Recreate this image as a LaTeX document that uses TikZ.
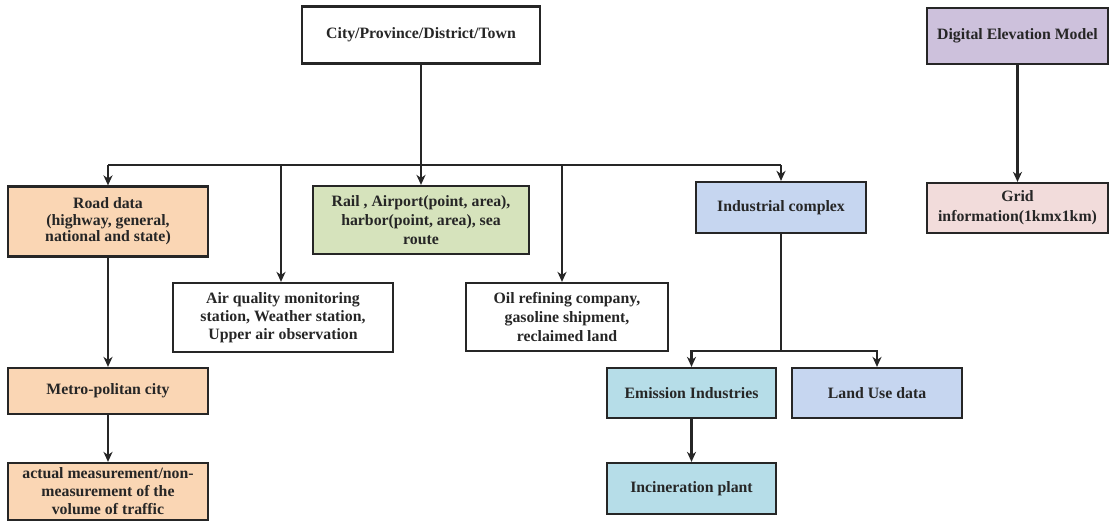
\documentclass[tikz,border=0pt]{standalone}
\usepackage{fontspec}
\setmainfont{Liberation Serif}
\usetikzlibrary{arrows.meta}
\definecolor{peach}{RGB}{250,214,180}
\definecolor{sage}{RGB}{214,227,188}
\definecolor{lblue}{RGB}{198,214,240}
\definecolor{teal}{RGB}{182,221,232}
\definecolor{lilac}{RGB}{205,193,220}
\definecolor{pinkish}{RGB}{242,220,219}
\begin{document}
\begin{tikzpicture}[x=1pt,y=-1pt,
  box/.style={draw=black!85,line width=2.2pt,rectangle,align=center,inner sep=1pt,
    font=\bfseries\fontsize{15.8}{18}\selectfont,text=black!85},
  arr/.style={line width=2.2pt,draw=black!85,-{Stealth[length=10pt,width=9pt,inset=3pt]}},
  ln/.style={line width=2.2pt,draw=black!85}]
\useasboundingbox (0,0) rectangle (1109,522);
\node[box,minimum width=238pt,minimum height=57pt] (city) at (421,35) {City/Province/District/Town};
\node[box,fill=peach,minimum width=200pt,minimum height=70pt,font=\bfseries\fontsize{15.8}{16.5}\selectfont] (road) at (108,221.5) {Road data\\(highway, general,\\national and state)};
\node[box,fill=sage,minimum width=216pt,minimum height=68pt,font=\bfseries\fontsize{15.8}{19}\selectfont] (rail) at (421,220) {Rail , Airport(point, area),\\harbor(point, area), sea\\route};
\node[box,minimum width=220pt,minimum height=69pt,font=\bfseries\fontsize{15.8}{18}\selectfont] (air) at (283,317.5) {Air quality monitoring\\station, Weather station,\\Upper air observation};
\node[box,minimum width=202pt,minimum height=68pt,font=\bfseries\fontsize{15.8}{19}\selectfont] (oil) at (567,317) {Oil refining company,\\gasoline shipment,\\reclaimed land};
\node[box,fill=lblue,minimum width=170pt,minimum height=51pt] (ind) at (781,207.5) {Industrial complex};
\node[box,fill=teal,minimum width=169pt,minimum height=50pt] (emis) at (691.5,393) {Emission Industries};
\node[box,fill=lblue,minimum width=170pt,minimum height=50pt] (land) at (877,393) {Land Use data};
\node[box,fill=teal,minimum width=169pt,minimum height=51pt] (inc) at (691.5,488.5) {Incineration plant};
\node[box,fill=peach,minimum width=200pt,minimum height=46pt] (metro) at (108,391) {Metro-politan city};
\node[box,fill=peach,minimum width=200pt,minimum height=57pt,font=\bfseries\fontsize{15.8}{18}\selectfont] (act) at (108,491.5) {actual measurement/non-\\measurement of the\\volume of traffic};
\node[box,fill=lilac,minimum width=181pt,minimum height=56pt] (dem) at (1017.5,36) {Digital Elevation Model};
\node[box,fill=pinkish,minimum width=181pt,minimum height=50pt,font=\bfseries\fontsize{15.8}{20}\selectfont] (grid) at (1017.5,208) {Grid\\information(1kmx1km)};
% bus
\coordinate (busL) at (108,165);
\coordinate (busR) at (781,165);
\coordinate (busA) at (281,165);
\coordinate (busO) at (562,165);
\draw[ln] (busL) -- (busR);
\draw[arr] (city.south) -- (rail.north);
\draw[arr] (busL) -- (road.north);
\draw[arr] (busA) -- (busA |- air.north);
\draw[arr] (busO) -- (busO |- oil.north);
\draw[arr] (busR) -- (ind.north);
% industrial branch
\coordinate (ib) at (781,351);
\draw[ln] (ind.south) -- (ib);
\draw[arr] (ib) -| (emis.north);
\draw[arr] (ib) -| (land.north);
\draw[arr] (emis.south) -- (inc.north);
% road chain
\draw[arr] (road.south) -- (metro.north);
\draw[arr] (metro.south) -- (act.north);
% dem
\draw[arr] (dem.south) -- (grid.north);
\end{tikzpicture}
\end{document}
